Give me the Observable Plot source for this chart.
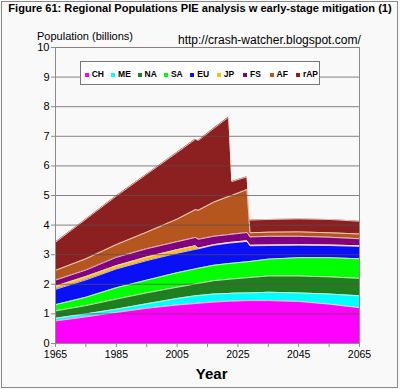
<!DOCTYPE html>
<html>
<head>
<meta charset="utf-8">
<script src="https://cdn.jsdelivr.net/npm/d3@7"></script>
<script src="https://cdn.jsdelivr.net/npm/@observablehq/plot@0.6"></script>
<style>
  html, body { margin: 0; padding: 0; background: #f9f9f9; }
  #wrap { position: relative; width: 400px; height: 389px; overflow: hidden; background: #f9f9f9;
          font-family: Arial, "Liberation Sans", sans-serif; }
  #wrap svg { position: absolute; left: 0; top: 0; }
  .lbl { position: absolute; white-space: nowrap; color: #000; }
  #frame { position: absolute; left: 1px; top: 1px; width: 395px; height: 385px; border: 1px solid #8a8a8a; pointer-events: none; }
  #legend { position: absolute; left: 80px; top: 61px; width: 238px; height: 22px; border: 1px solid #777; background: #fff; }
</style>
</head>
<body>
<div id="wrap"><div id="frame"></div></div>
<script>
// ---- data (billions) ----
const years = [1965, 1975, 1985, 1995, 2005, 2011, 2012, 2017, 2022, 2023, 2028, 2029, 2035, 2045, 2055, 2065];
const CH  = [0.76, 0.90, 1.05, 1.19, 1.30, 1.35, 1.36, 1.40, 1.43, 1.43, 1.45, 1.45, 1.45, 1.42, 1.33, 1.21];
const ME  = [0.09, 0.10, 0.11, 0.15, 0.22, 0.26, 0.26, 0.27, 0.26, 0.27, 0.26, 0.26, 0.28, 0.29, 0.34, 0.40];
const NA  = [0.25, 0.28, 0.34, 0.37, 0.38, 0.40, 0.41, 0.45, 0.48, 0.48, 0.51, 0.52, 0.55, 0.57, 0.58, 0.59];
const SA  = [0.21, 0.28, 0.38, 0.43, 0.49, 0.51, 0.51, 0.52, 0.53, 0.53, 0.54, 0.54, 0.57, 0.62, 0.65, 0.66];
const EU  = [0.52, 0.59, 0.64, 0.66, 0.66, 0.66, 0.66, 0.68, 0.69, 0.69, 0.69, 0.53, 0.46, 0.42, 0.41, 0.42];
const JP  = [0.10, 0.11, 0.11, 0.12, 0.12, 0.12, 0.02, 0.02, 0.02, 0.02, 0.02, 0.02, 0.02, 0.02, 0.02, 0.02];
const FS  = [0.21, 0.22, 0.28, 0.28, 0.27, 0.28, 0.30, 0.28, 0.27, 0.27, 0.28, 0.28, 0.29, 0.28, 0.26, 0.24];
const AF  = [0.33, 0.38, 0.43, 0.56, 0.76, 0.94, 0.98, 1.15, 1.29, 1.31, 1.45, 0.14, 0.14, 0.15, 0.15, 0.16];
const rAP = [0.95, 1.34, 1.64, 1.96, 2.25, 2.38, 2.36, 2.49, 2.68, 0.47, 0.43, 0.43, 0.43, 0.44, 0.45, 0.43];

const regions = ["CH", "ME", "NA", "SA", "EU", "JP", "FS", "AF", "rAP"];
const colors  = ["#ff00ff", "#00ffff", "#1f7f1f", "#00ff00", "#0a10f5", "#ffbf00", "#800080", "#b4561e", "#8c1f1f"];
const yTicks = d3.range(0, 11);
const xTicks = d3.range(1965, 2066, 10);

const title = "Figure 61: Regional Populations PIE analysis w early-stage mitigation (1)";
const yLabel = "Population (billions)";
const xLabel = "Year";
const url = "http://crash-watcher.blogspot.com/";

const series = {CH, ME, NA, SA, EU, JP, FS, AF, rAP};
const data = regions.flatMap(r => years.map((yr, i) => ({year: yr, region: r, value: series[r][i]})));

const chart = Plot.plot({
  width: 400, height: 389,
  marginLeft: 55, marginRight: 41, marginTop: 47, marginBottom: 46,
  x: {domain: [1965, 2065]},
  y: {domain: [0, 10]},
  color: {domain: regions, range: colors},
  style: {fontFamily: "Arial, 'Liberation Sans', sans-serif", fontSize: "11px", background: "transparent", overflow: "visible", color: "#000"},
  marks: [
    Plot.areaY(data, {x: "year", y: "value", fill: "region", order: regions}),
    Plot.lineY(data, Plot.stackY2({x: "year", y: "value", z: "region", order: regions, stroke: "#fbebe0", strokeWidth: 0.8})),
    Plot.ruleY(yTicks.slice(1), {stroke: "#5c4d4d", strokeOpacity: 0.7}),
    Plot.ruleX([1965, 2065], {stroke: "#8c8c8c"}),
    Plot.ruleY([0], {stroke: "#8c8c8c"}),
    Plot.axisY({ticks: yTicks, tickSize: 4, tickPadding: 2, label: null, stroke: "#8c8c8c", fill: "#000", fontSize: 11}),
    Plot.axisX({ticks: xTicks, tickFormat: d => (d - 1965) % 20 === 0 ? String(d) : "", tickSize: 4, tickPadding: 3, label: null, stroke: "#8c8c8c", fill: "#000", fontSize: 10.5})
  ]
});
const wrap = document.getElementById("wrap");
wrap.insertBefore(chart, document.getElementById("frame"));

function place(text, x, baseline, size, weight, anchor, parent) {
  const d = document.createElement("div");
  d.className = "lbl";
  d.textContent = text;
  d.style.fontSize = size + "px";
  d.style.lineHeight = (1.117 * size) + "px";
  d.style.fontWeight = weight;
  d.style.top = (baseline - 0.905 * size) + "px";
  d.style.left = x + "px";
  if (anchor === "middle") d.style.transform = "translateX(-50%)";
  (parent || wrap).appendChild(d);
  return d;
}
place(title, 200, 12, 11.1, "bold", "middle");
place(yLabel, 37, 39.5, 11, "normal", "start");
place(url, 178, 45, 12, "normal", "start");
place(xLabel, 211.7, 380, 15, "bold", "middle");

// legend
const lg = document.createElement("div");
lg.id = "legend";
wrap.appendChild(lg);
regions.forEach((r, i) => {
  const cx = 86.7 + i * 26.4 - 81;
  const sw = document.createElement("div");
  sw.style.cssText = `position:absolute;left:${cx - 2}px;top:${10.5}px;width:4px;height:4px;background:${colors[i]}`;
  lg.appendChild(sw);
  place(r, cx + 5, 15.2, 8.5, "bold", "start", lg);
});
</script>
</body>
</html>
